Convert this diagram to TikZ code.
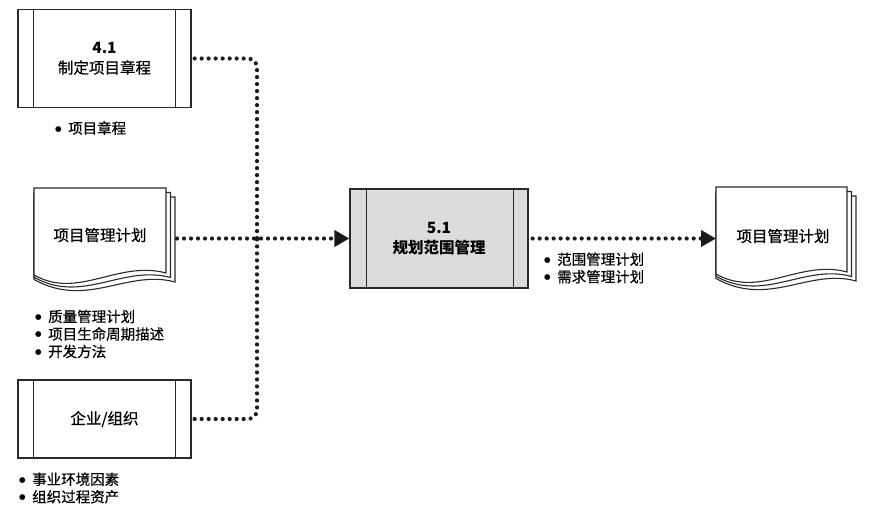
\documentclass[tikz,border=0pt]{standalone}
\usepackage{fontspec}
\setmainfont{Noto Sans CJK SC}[UprightFeatures={FakeBold=0.5}]
\newfontfamily\symf{DejaVu Sans}
\usetikzlibrary{arrows.meta}
\definecolor{ln}{HTML}{2A2A2A}
\definecolor{boxgray}{HTML}{DCDCDC}
\definecolor{dotc}{HTML}{1A1A1A}
\newcommand{\bl}{\makebox[13pt][l]{\raisebox{2.6pt}{\symf\fontsize{7.5}{7.5}\selectfont ●}}}
\tikzset{
  procbox/.style={draw=ln, line width=1.3pt, inner sep=0pt, align=center, font=\fontsize{15.5}{20}\selectfont},
  edge/.style={draw=ln, line width=1.3pt},
  page/.style={fill=white, draw=ln, line width=1.1pt, line join=miter},
  dotline/.style={draw=dotc, line width=4.2pt, line cap=round, dash pattern=on 0pt off 7pt},
  arr/.style={-{Triangle[length=15pt,width=16pt]}},
  bul/.style={anchor=west, align=left, inner sep=0pt, font=\fontsize{14.5}{17.5}\selectfont},
  doctext/.style={inner sep=0pt, font=\fontsize{15.5}{19}\selectfont},
}
\newcommand{\mydoc}[3]{% x0, y0, x1
  \foreach \d in {9,4.5,0}{
    \filldraw[page] (#1,#2+\d) -- (#3+\d,#2+\d) -- (#3+\d,#2+85+\d)
      .. controls (#1+84+\d,#2+72+\d) and (#1+44+\d,#2+112+\d) .. (#1,#2+87+0.5*\d) -- cycle;
  }
}
\begin{document}
\begin{tikzpicture}[x=1pt,y=-1pt]
\useasboundingbox (0,0) rectangle (882,519);

% process boxes
\node[procbox, fill=white, minimum width=173pt, minimum height=98pt] (p41) at (104.5,58.5)
  {\textbf{4.1}\\制定项目章程};
\draw[edge] ([xshift=16pt]p41.north west) -- ([xshift=16pt]p41.south west);
\draw[edge] ([xshift=-16pt]p41.north east) -- ([xshift=-16pt]p41.south east);

\node[procbox, fill=white, minimum width=173pt, minimum height=78pt] (org) at (104.5,419)
  {企业/组织};
\draw[edge] ([xshift=16pt]org.north west) -- ([xshift=16pt]org.south west);
\draw[edge] ([xshift=-16pt]org.north east) -- ([xshift=-16pt]org.south east);

\node[procbox, fill=boxgray, minimum width=178pt, minimum height=99pt, font=\bfseries\fontsize{15.5}{20}\selectfont] (p51) at (439,238.5)
  {5.1\\规划范围管理};
\draw[edge] ([xshift=17pt]p51.north west) -- ([xshift=17pt]p51.south west);
\draw[edge] ([xshift=-15pt]p51.north east) -- ([xshift=-15pt]p51.south east);

% documents
\mydoc{34}{188}{166}
\node[doctext] (d1) at (100,235) {项目管理计划};
\mydoc{716}{187}{847}
\node[doctext] (d2) at (783,236) {项目管理计划};

% bullet lists
\node[bul] (b41) at (55,128) {\bl 项目章程};
\node[bul] (b1) at (35,334) {\bl 质量管理计划\\\bl 项目生命周期描述\\\bl 开发方法};
\node[bul] (borg) at (19,488) {\bl 事业环境因素\\\bl 组织过程资产};
\node[bul] (b51) at (544,268) {\bl 范围管理计划\\\bl 需求管理计划};

% connectors
\coordinate (J) at (257,238.5);
\coordinate (d1r) at (177,238.5);
\coordinate (d2l) at (716,238.5);
\draw[dotline, rounded corners=9pt] ([xshift=3pt]p41.east) -| (J);
\draw[dotline, rounded corners=9pt] ([xshift=3pt]org.east) -| (J);
\draw[dotline, arr] (d1r) -- (p51.west);
\draw[dotline, arr] ([xshift=4pt]p51.east) -- (d2l);
\end{tikzpicture}
\end{document}
